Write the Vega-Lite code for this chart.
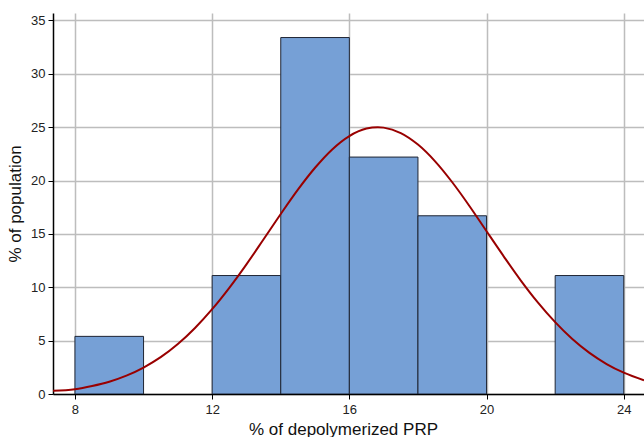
{
  "$schema": "https://vega.github.io/schema/vega-lite/v6.json",
  "autosize": {"type": "none"},
  "padding": {"left": 53, "top": 13, "right": 0, "bottom": 43},
  "width": 591,
  "height": 381,
  "background": "white",
  "config": {
    "view": {"stroke": null},
    "font": "Liberation Sans",
    "axis": {
      "domainColor": "black",
      "domainWidth": 1.5,
      "tickColor": "black",
      "tickSize": 5,
      "labelFont": "Liberation Sans",
      "labelFontSize": 13,
      "labelColor": "#222",
      "titleFont": "Liberation Sans",
      "titleFontSize": 17,
      "titleFontWeight": "normal",
      "titleColor": "#111",
      "gridColor": "#bdbdbd",
      "gridWidth": 1.5
    }
  },
  "datasets": {
    "bins": [
      {"start": 8, "end": 10, "pct": 5.4},
      {"start": 12, "end": 14, "pct": 11.1},
      {"start": 14, "end": 16, "pct": 33.4},
      {"start": 16, "end": 18, "pct": 22.2},
      {"start": 18, "end": 20, "pct": 16.7},
      {"start": 22, "end": 24, "pct": 11.1}
    ],
    "curve": [
      {"x": 7.36, "y": 0.3},
      {"x": 8, "y": 0.45},
      {"x": 8.5, "y": 0.75},
      {"x": 9, "y": 1.15},
      {"x": 9.5, "y": 1.72},
      {"x": 10, "y": 2.48},
      {"x": 10.5, "y": 3.45},
      {"x": 11, "y": 4.68},
      {"x": 11.5, "y": 6.19},
      {"x": 12, "y": 7.95},
      {"x": 12.5, "y": 9.95},
      {"x": 13, "y": 12.15},
      {"x": 13.5, "y": 14.5},
      {"x": 14, "y": 16.87},
      {"x": 14.5, "y": 19.15},
      {"x": 15, "y": 21.2},
      {"x": 15.5, "y": 22.92},
      {"x": 16, "y": 24.17},
      {"x": 16.5, "y": 24.87},
      {"x": 16.83, "y": 25.0},
      {"x": 17, "y": 24.96},
      {"x": 17.5, "y": 24.45},
      {"x": 18, "y": 23.37},
      {"x": 18.5, "y": 21.8},
      {"x": 19, "y": 19.84},
      {"x": 19.5, "y": 17.62},
      {"x": 20, "y": 15.25},
      {"x": 20.5, "y": 12.9},
      {"x": 21, "y": 10.63},
      {"x": 21.5, "y": 8.56},
      {"x": 22, "y": 6.73},
      {"x": 22.5, "y": 5.15},
      {"x": 23, "y": 3.85},
      {"x": 23.5, "y": 2.81},
      {"x": 24, "y": 2.0},
      {"x": 24.59, "y": 1.29}
    ]
  },
  "layer": [
    {
      "data": {"name": "bins"},
      "mark": {"type": "bar", "fill": "#76a0d6", "stroke": "#1f2533", "strokeWidth": 1, "clip": true},
      "encoding": {
        "x": {
          "field": "start", "type": "quantitative",
          "scale": {"domain": [7.36, 24.59], "nice": false, "zero": false},
          "axis": {"values": [8, 12, 16, 20, 24], "title": "% of depolymerized PRP", "titlePadding": 5, "labelPadding": 4, "titleX": 290}
        },
        "x2": {"field": "end"},
        "y": {
          "field": "pct", "type": "quantitative",
          "scale": {"domain": [0, 35.7], "nice": false},
          "axis": {"values": [0, 5, 10, 15, 20, 25, 30, 35], "title": "% of population", "titlePadding": 6, "labelPadding": 3}
        },
        "y2": {"datum": 0}
      }
    },
    {
      "data": {"name": "curve"},
      "mark": {"type": "line", "color": "#990000", "strokeWidth": 2, "interpolate": "monotone", "clip": true},
      "encoding": {
        "x": {"field": "x", "type": "quantitative"},
        "y": {"field": "y", "type": "quantitative"}
      }
    },
    {
      "mark": {"type": "rule", "color": "black", "strokeWidth": 1.5},
      "encoding": {"y": {"datum": 35.7}}
    }
  ]
}
